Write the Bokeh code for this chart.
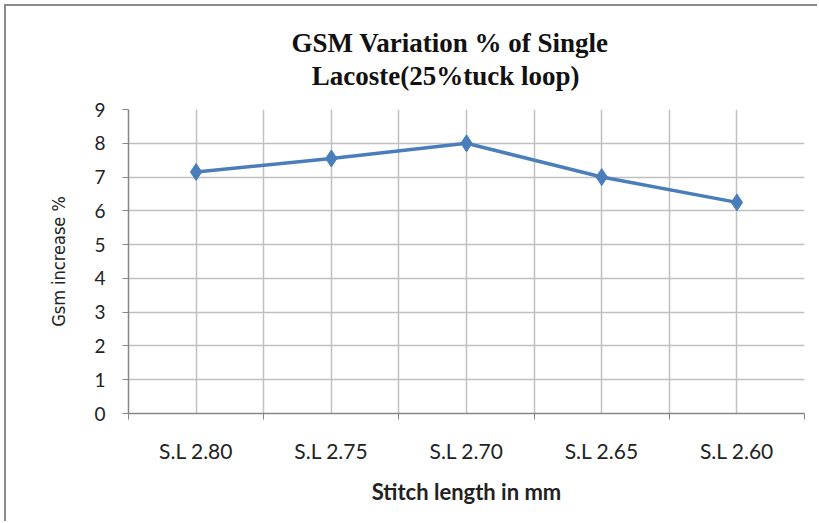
from bokeh.plotting import figure
from bokeh.models import Range1d, FixedTicker, Title
from bokeh.embed import file_html
from bokeh.resources import INLINE

title_lines = ["GSM Variation % of Single", "Lacoste(25%tuck loop)"]
categories = ["S.L 2.80", "S.L 2.75", "S.L 2.70", "S.L 2.65", "S.L 2.60"]
gsm_increase = [7.15, 7.55, 8.0, 7.0, 6.25]
y_ticks = [0, 1, 2, 3, 4, 5, 6, 7, 8, 9]

n = len(categories)
xs = [i + 0.5 for i in range(n)]

p = figure(width=813, height=517, output_backend="svg", toolbar_location=None,
           x_range=Range1d(0, n), y_range=Range1d(0, 9),
           min_border_left=122, min_border_right=15, min_border_top=103, min_border_bottom=110)
p.outline_line_color = None
p.background_fill_color = "white"
p.border_fill_color = "white"

# title (two lines; second line indented with no-break spaces to look centred)
title_text = title_lines[0] + "\n" + "\u00a0" * 3 + title_lines[1]
p.add_layout(Title(text=title_text, align="left", offset=163,
                   text_font="Liberation Serif", text_font_size="27px",
                   text_font_style="bold", text_color="#111111",
                   standoff=38, text_line_height=1.1), "above")

# x axis
p.xaxis.ticker = FixedTicker(ticks=xs, minor_ticks=list(range(n + 1)))
p.xaxis.major_label_overrides = {x: c for x, c in zip(xs, categories)}
p.xaxis.major_tick_out = 0
p.xaxis.major_tick_in = 0
p.xaxis.minor_tick_out = 6
p.xaxis.minor_tick_in = 0
p.xaxis.minor_tick_line_color = "#868686"
p.xaxis.axis_line_color = "#868686"
p.xaxis.axis_line_width = 1.5
p.xaxis.major_label_text_font = "Lato"
p.xaxis.major_label_text_font_size = "21px"
p.xaxis.major_label_text_color = "#222222"
p.xaxis.major_label_standoff = 18
p.xaxis.axis_label = "Stitch length in mm"
p.xaxis.axis_label_text_font = "Lato"
p.xaxis.axis_label_text_font_style = "bold"
p.xaxis.axis_label_text_font_size = "22px"
p.xaxis.axis_label_text_color = "#222222"
p.xaxis.axis_label_standoff = 12

# y axis
p.yaxis.ticker = FixedTicker(ticks=y_ticks, minor_ticks=[])
p.yaxis.major_tick_out = 6
p.yaxis.major_tick_in = 0
p.yaxis.major_tick_line_color = "#868686"
p.yaxis.axis_line_color = "#868686"
p.yaxis.axis_line_width = 1.5
p.yaxis.major_label_text_font = "Lato"
p.yaxis.major_label_text_font_size = "19px"
p.yaxis.major_label_text_color = "#222222"
p.yaxis.major_label_standoff = 17
p.yaxis.axis_label = "Gsm increase %"
p.yaxis.axis_label_text_font = "'Liberation Sans Narrow', 'DejaVu Sans Condensed', sans-serif"
p.yaxis.axis_label_text_font_style = "normal"
p.yaxis.axis_label_text_font_size = "18px"
p.yaxis.axis_label_text_color = "#222222"
p.yaxis.axis_label_standoff = 22

# grids
p.xgrid.ticker = FixedTicker(ticks=[i * 0.5 for i in range(2 * n + 1)])
p.xgrid.grid_line_color = "#c0c0c0"
p.xgrid.grid_line_width = 1.5
p.ygrid.ticker = FixedTicker(ticks=y_ticks)
p.ygrid.grid_line_color = "#c0c0c0"
p.ygrid.grid_line_width = 1.5

p.line(xs, gsm_increase, line_color="#4a7ebb", line_width=3.5)
p.scatter(xs, gsm_increase, marker="diamond", size=17, fill_color="#4a7ebb",
          line_color="#4a7ebb")

p.styles = {"margin-left": "4px", "margin-top": "4px",
            "border-left": "2px solid #8a8a8a", "border-top": "2px solid #8a8a8a"}

open("out.html", "w").write(file_html(p, INLINE))
